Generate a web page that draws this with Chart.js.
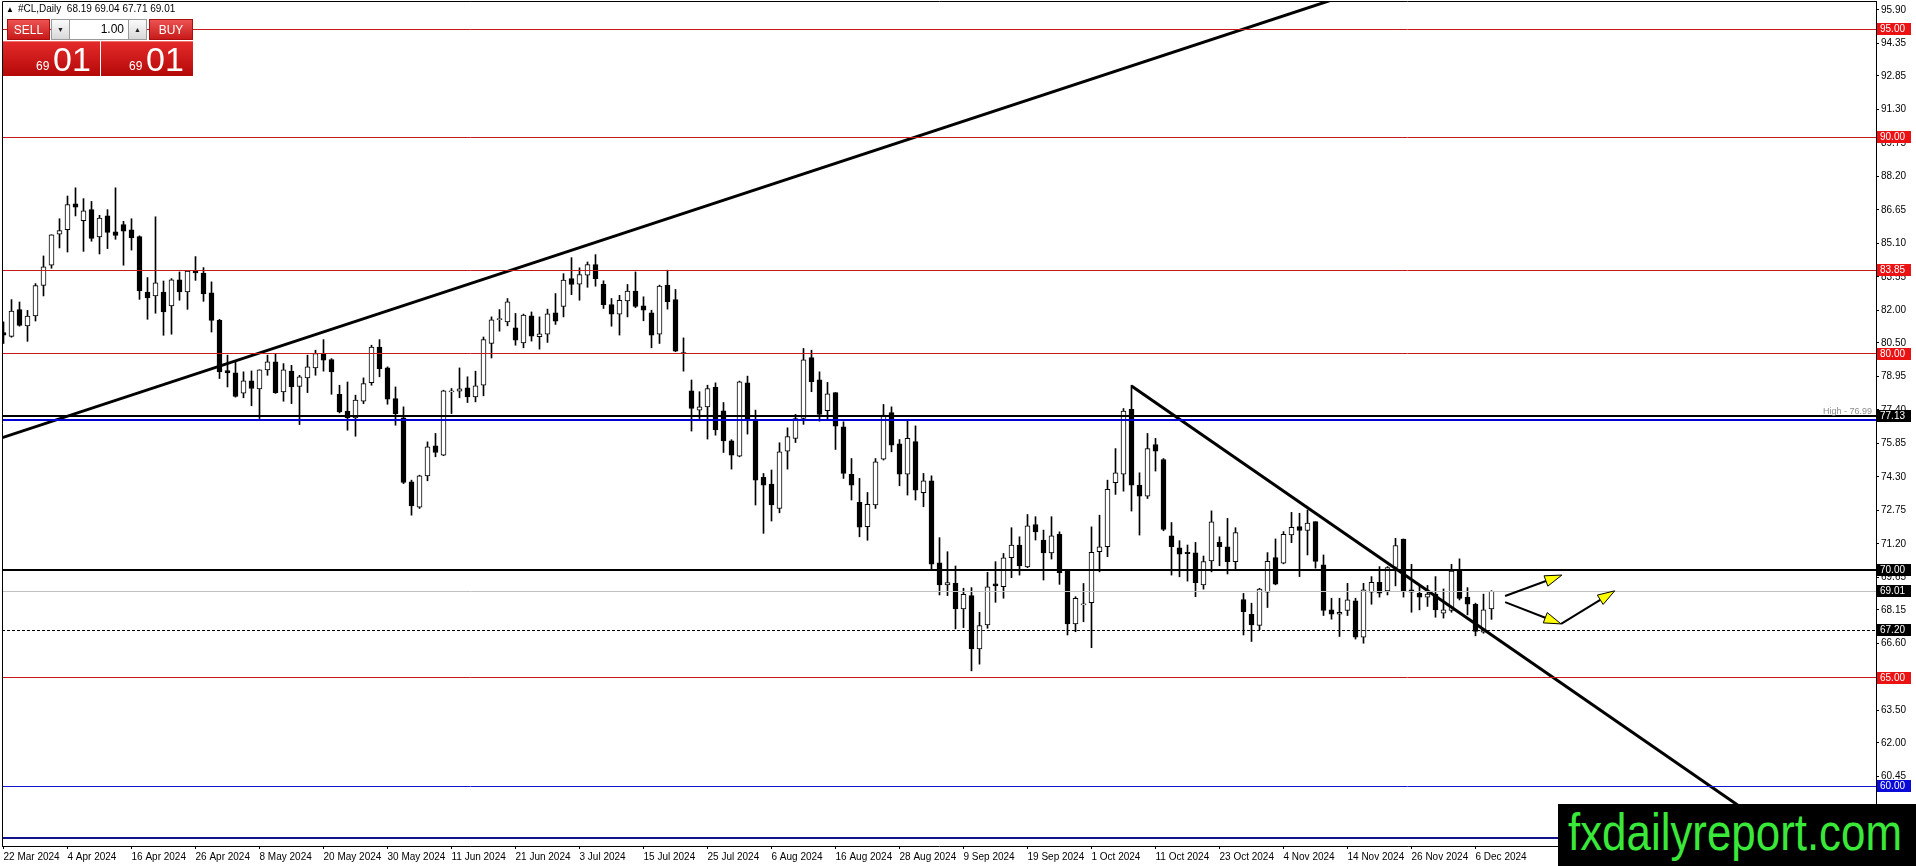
<!DOCTYPE html>
<html><head><meta charset="utf-8">
<script src="https://cdn.jsdelivr.net/npm/chart.js@4/dist/chart.umd.min.js"></script>
<style>
html,body{margin:0;padding:0;background:#fff;overflow:hidden}
#wrap{position:relative;width:1916px;height:866px;font-family:"Liberation Sans",Arial,sans-serif}
canvas{display:block;position:absolute;left:0;top:0}
.abs{position:absolute}
#hdr{left:6px;top:3px;font-size:10px;color:#000;white-space:nowrap;line-height:12px}
#hdr .tri{font-size:8px;margin-right:4px}
.btn{top:19px;height:21px;background:linear-gradient(#ec5252,#c81a1a);color:#fff;font-size:12px;display:flex;align-items:center;justify-content:center;box-sizing:border-box;border:1px solid #a80f0f}
#sell{left:7px;width:43px}
#buy{left:149px;width:44px}
.spin{top:19px;height:21px;width:19px;background:linear-gradient(#fbfbfb,#d8d8d8);border:1px solid #9a9a9a;box-sizing:border-box;font-size:7px;display:flex;align-items:center;justify-content:center;color:#222}
#dn{left:51px}#up{left:128px}
#lot{left:70px;top:19px;width:58px;height:21px;background:#fff;border-top:1px solid #9a9a9a;border-bottom:1px solid #9a9a9a;box-sizing:border-box;text-align:right;font-size:12px;line-height:19px;padding-right:4px;color:#000}
.pbox{top:41px;height:35px;background:linear-gradient(#e42a2a,#b40808);color:#fff;box-sizing:border-box;border-top:1px solid #f07070}
#pl{left:3px;width:97px}#pr{left:101px;width:92px}
.pbox .s{position:absolute;bottom:4px;font-size:12px;line-height:12px}
.pbox .b{position:absolute;bottom:1px;font-size:34px;line-height:32px}
#wm{left:1558px;top:804px;width:358px;height:62px;background:#000;overflow:hidden}
#wm span{position:absolute;left:10px;top:2px;font-size:52px;line-height:52px;color:#3ae83a;white-space:nowrap;transform-origin:0 0}
</style></head><body>
<div id="wrap">
<canvas id="c" width="1916" height="866"></canvas>
<div id="hdr" class="abs"><span class="tri">▲</span>#CL,Daily&nbsp; 68.19 69.04 67.71 69.01</div>
<div id="sell" class="abs btn">SELL</div>
<div id="dn" class="abs spin">▼</div>
<div id="lot" class="abs">1.00</div>
<div id="up" class="abs spin">▲</div>
<div id="buy" class="abs btn">BUY</div>
<div id="pl" class="abs pbox"><span class="s" style="left:33px">69</span><span class="b" style="left:50px">01</span></div>
<div id="pr" class="abs pbox"><span class="s" style="left:28px">69</span><span class="b" style="left:45px">01</span></div>
<div id="wm" class="abs"><span id="wmt">fxdailyreport.com</span></div>
</div>
<script>
// ---- data ----
const opens = [80.98,80.80,82.04,81.28,81.74,83.16,84.09,85.53,85.73,86.93,
86.15,86.66,85.40,86.37,85.64,85.97,85.73,85.41,82.85,82.67,
82.85,82.21,83.42,82.85,83.82,83.73,82.81,81.54,79.22,79.11,
78.17,78.74,78.37,79.25,79.62,78.23,79.20,78.49,78.88,79.34,
80.00,79.73,78.12,77.34,77.03,77.80,78.66,80.31,79.34,77.92,
77.03,74.07,72.90,74.34,75.74,75.31,78.23,78.26,78.42,78.00,
78.54,80.47,81.57,81.47,81.19,80.50,81.75,80.78,80.90,81.89,
82.19,83.47,83.21,83.63,84.12,83.21,82.27,81.83,82.44,82.89,
82.21,81.89,80.90,83.17,82.50,80.02,78.28,77.39,77.54,78.44,
77.36,75.97,75.26,78.65,76.96,74.28,73.97,72.84,75.49,76.08,
77.00,79.82,78.79,77.36,78.20,76.62,74.42,73.12,72.00,73.00,
75.12,77.28,75.83,74.43,75.93,73.57,74.12,70.33,69.30,69.38,
68.19,68.81,66.34,67.45,69.36,69.22,70.56,71.15,70.14,72.10,
71.38,70.79,71.65,69.96,67.50,68.38,68.48,70.84,71.07,74.03,
74.43,77.43,73.92,73.41,75.80,75.10,71.58,71.02,70.81,70.79,
69.30,70.41,71.27,71.07,70.38,68.63,67.95,67.43,68.97,70.57,
70.31,71.62,72.00,71.82,72.23,70.23,68.15,67.95,68.12,68.57,
66.89,68.97,69.43,69.03,70.11,71.42,69.08,68.92,68.74,68.88,
68.00,68.12,70.00,68.74,68.41,67.12,68.19];
const highs = [81.47,82.50,82.39,82.00,83.24,84.52,85.50,86.24,87.29,87.67,
87.17,87.04,86.40,86.66,87.67,86.12,86.24,85.45,83.52,86.33,
83.36,83.47,83.78,83.85,84.49,83.98,83.32,81.59,79.93,79.62,
79.16,79.20,79.25,79.93,80.00,79.54,79.46,79.00,79.93,80.16,
80.65,79.77,78.54,78.69,78.08,78.88,80.39,80.65,79.39,78.46,
77.54,74.15,74.38,75.92,76.31,78.31,78.39,79.34,78.93,79.19,
80.77,81.70,82.04,82.55,81.86,81.83,81.93,81.70,82.06,82.78,
83.70,84.44,83.97,84.24,84.58,83.37,82.55,82.70,83.20,83.78,
82.63,82.01,83.17,83.86,82.97,80.73,78.78,78.24,78.54,78.65,
77.74,76.02,78.73,78.96,77.39,74.46,74.62,75.88,76.57,77.19,
80.24,80.16,79.16,78.67,78.20,76.85,75.15,74.23,73.58,75.15,
77.65,77.54,76.03,76.96,76.66,74.46,74.35,71.49,70.84,70.18,
69.15,69.18,68.04,69.89,70.38,70.76,71.95,71.53,72.56,72.46,
71.84,72.46,71.76,69.99,68.76,69.37,71.99,72.53,74.15,75.61,
77.46,78.54,74.49,76.31,76.08,75.15,72.19,71.35,71.15,71.27,
70.64,72.73,71.53,72.38,71.95,68.91,68.46,69.15,70.80,71.43,
71.77,72.66,72.62,72.77,72.23,70.69,68.69,68.69,69.38,68.69,
69.38,69.69,70.15,70.15,71.46,71.43,70.26,69.26,69.28,69.69,
69.12,70.26,70.51,69.18,68.46,68.88,69.04];
const lows = [80.47,80.76,81.27,80.57,81.51,82.67,83.95,84.89,84.70,86.37,
84.73,85.20,84.61,84.86,85.29,84.09,84.79,82.51,81.59,81.87,
80.85,80.90,82.47,82.05,83.39,82.42,81.00,78.85,78.46,77.99,
77.96,77.59,77.00,79.00,78.16,77.80,77.69,76.72,78.20,79.00,
79.19,78.12,77.26,76.46,76.18,77.69,78.54,78.93,77.66,76.69,
73.99,72.53,72.84,74.12,75.23,75.28,77.23,77.96,77.74,77.77,
78.05,79.80,81.04,81.29,80.39,80.27,80.58,80.21,80.52,81.35,
81.70,82.73,82.47,83.07,83.12,82.09,81.27,80.86,81.70,82.13,
81.52,80.27,80.47,82.06,80.09,79.19,76.42,77.00,76.05,76.23,
75.43,74.66,75.23,76.28,73.00,71.69,72.26,72.64,74.66,75.89,
76.73,78.24,76.88,76.97,75.57,74.23,73.23,71.53,71.37,72.84,
75.08,75.46,73.89,73.46,73.23,72.92,70.04,68.84,68.81,67.27,
67.33,65.33,65.64,67.30,68.50,68.69,69.64,69.76,70.10,71.38,
69.53,70.50,69.33,66.99,67.14,67.60,66.40,69.91,70.61,73.49,
73.64,72.72,71.61,73.30,74.57,71.81,69.76,69.68,69.48,68.76,
69.11,69.91,70.19,69.81,69.99,66.99,66.69,67.23,68.26,69.31,
70.28,71.26,69.69,70.69,70.08,67.89,67.72,66.92,67.89,66.80,
66.61,68.41,68.74,68.84,69.26,68.74,68.04,68.15,68.31,67.81,
67.77,68.04,68.61,67.92,66.95,67.07,67.71];
const closes = [80.85,81.97,81.31,81.74,83.15,84.01,85.49,85.69,86.89,86.77,
86.60,85.33,86.27,85.61,85.47,85.66,85.35,82.90,82.58,83.27,
81.93,83.42,82.85,83.82,83.73,82.76,81.54,79.16,79.11,78.02,
78.74,78.39,79.25,79.62,78.20,79.25,78.46,78.93,79.39,80.00,
79.70,79.16,77.31,77.03,77.85,78.62,80.31,79.31,77.89,77.23,
74.04,72.96,74.35,75.69,75.43,78.28,78.25,78.37,78.00,78.51,
80.65,81.57,81.62,82.40,80.62,81.79,80.81,80.92,81.84,81.50,
83.40,83.20,83.66,84.12,83.47,82.27,81.83,82.47,82.89,82.19,
82.01,80.86,83.13,82.40,80.12,80.00,77.47,77.54,78.39,76.47,
75.96,75.31,78.70,76.96,74.15,73.92,73.00,75.46,76.16,77.00,
79.71,78.70,77.19,78.14,76.65,74.46,73.92,71.97,73.03,75.00,
77.16,75.77,74.43,76.08,73.69,74.12,70.26,69.30,69.41,68.19,
68.87,66.34,67.42,69.22,69.26,70.56,71.15,70.18,72.04,71.76,
70.79,71.58,69.87,67.50,68.68,68.40,70.81,71.07,73.73,74.49,
77.34,73.92,73.41,75.61,75.49,71.87,71.07,70.73,70.75,69.41,
70.38,72.22,71.07,70.38,71.72,68.07,67.46,69.11,70.39,69.34,
71.65,71.97,71.82,72.16,70.39,68.12,67.95,68.04,68.61,66.89,
69.08,69.43,68.92,70.11,71.12,69.04,68.97,68.74,68.88,68.15,
68.15,69.95,68.68,68.41,67.15,68.15,69.01];

const dateTickIndex = [0,8,16,24,32,40,48,56,64,72,80,88,96,104,112,120,128,136,144,152,160,168,176,184];
const dateTickLabels = ['22 Mar 2024','4 Apr 2024','16 Apr 2024','26 Apr 2024','8 May 2024','20 May 2024','30 May 2024','11 Jun 2024','21 Jun 2024','3 Jul 2024','15 Jul 2024','25 Jul 2024','6 Aug 2024','16 Aug 2024','28 Aug 2024','9 Sep 2024','19 Sep 2024','1 Oct 2024','11 Oct 2024','23 Oct 2024','4 Nov 2024','14 Nov 2024','26 Nov 2024','6 Dec 2024'];
const priceTicks = [95.90,94.35,92.85,91.30,89.75,88.20,86.65,85.10,83.55,82.00,80.50,78.95,77.40,75.85,74.30,72.75,71.20,69.65,68.15,66.60,65.05,63.50,62.00,60.45,58.90];

const redLevels = [95.00, 90.00, 83.85, 80.00, 65.00];
const blueLevels = [60.00];
const blackLevels = [77.13, 70.00];
const highLevel = 76.92;
const highLabel = 'High - 76.99';
const bidLevel = 69.01;
const stopLevel = 67.20;
const floorLevel = 57.60;

const trendUpX = [-1, 170];
const trendUpY = [76.01, 96.84];
const trendDownX = [141, 230];
const trendDownY = [78.50, 55.74];

const arrowFromX = [187.7, 187.7, 194.7];
const arrowFromY = [68.79, 68.51, 67.50];
const arrowToX = [194.8, 194.7, 201.4];
const arrowToY = [69.76, 67.50, 69.03];

// ---- build datasets ----
const idx = opens.map((_, i) => i);
const wickData = idx.map(i => ({x: i, y: [lows[i], highs[i]]}));
const bodyData = idx.map(i => ({x: i, y: [opens[i], closes[i]]}));
const upData = trendUpX.map((v, i) => ({x: v, y: trendUpY[i]}));
const downData = trendDownX.map((v, i) => ({x: v, y: trendDownY[i]}));
const FONT = '"Liberation Sans", Arial, sans-serif';

const overlay = {
  id: 'overlay',
  afterDatasetsDraw(chart) {
    const {ctx, chartArea: a, scales: {x, y}} = chart;
    ctx.save();
    ctx.beginPath(); ctx.rect(a.left, a.top, a.right - a.left, a.bottom - a.top); ctx.clip();
    const h = (v, color, w, dash) => {
      let py = y.getPixelForValue(v);
      py = (w % 2) ? Math.round(py - 0.5) + 0.5 : Math.round(py);
      ctx.setLineDash(dash || []); ctx.strokeStyle = color; ctx.lineWidth = w;
      ctx.beginPath(); ctx.moveTo(a.left, py); ctx.lineTo(a.right, py); ctx.stroke();
    };
    redLevels.forEach(v => h(v, '#c41a1a', 1));
    blueLevels.forEach(v => h(v, '#1414d0', 1));
    h(highLevel, '#0000d4', 2);
    blackLevels.forEach(v => h(v, '#000', 2));
    h(bidLevel, '#c0c0c0', 1);
    h(stopLevel, '#000', 1, [3, 2]);
    h(floorLevel, '#12128a', 2);
    ctx.setLineDash([]);
    for (let k = 0; k < arrowFromX.length; k++) {
      const x0 = x.getPixelForValue(arrowFromX[k]), y0 = y.getPixelForValue(arrowFromY[k]);
      const x1 = x.getPixelForValue(arrowToX[k]), y1 = y.getPixelForValue(arrowToY[k]);
      const ang = Math.atan2(y1 - y0, x1 - x0);
      const L = 17, W = 5.5;
      const bx = x1 - L * Math.cos(ang), by = y1 - L * Math.sin(ang);
      ctx.strokeStyle = '#000'; ctx.lineWidth = 2;
      ctx.beginPath(); ctx.moveTo(x0, y0); ctx.lineTo(bx, by); ctx.stroke();
      ctx.beginPath(); ctx.moveTo(x1, y1);
      ctx.lineTo(bx + W * Math.sin(ang), by - W * Math.cos(ang));
      ctx.lineTo(bx - W * Math.sin(ang), by + W * Math.cos(ang));
      ctx.closePath();
      ctx.fillStyle = '#ffff00'; ctx.fill(); ctx.lineWidth = 1; ctx.stroke();
    }
    ctx.fillStyle = '#8c8c8c'; ctx.font = '9px ' + FONT; ctx.textAlign = 'right'; ctx.textBaseline = 'alphabetic';
    ctx.fillText(highLabel, a.right - 4, y.getPixelForValue(blackLevels[0]) - 2);
    ctx.restore();
  },
  afterDraw(chart) {
    const {ctx, chartArea: a, scales: {y}} = chart;
    ctx.save();
    ctx.strokeStyle = '#000'; ctx.lineWidth = 1;
    ctx.beginPath(); ctx.moveTo(a.left + 0.5, a.bottom); ctx.lineTo(a.left + 0.5, a.top + 0.5); ctx.lineTo(a.right, a.top + 0.5); ctx.stroke();
    const box = (v, bg) => {
      const py = Math.round(y.getPixelForValue(v));
      ctx.fillStyle = bg; ctx.fillRect(y.left + 1, py - 6, 34, 12);
      ctx.fillStyle = '#fff'; ctx.font = '10px ' + FONT; ctx.textAlign = 'left'; ctx.textBaseline = 'middle';
      ctx.fillText(v.toFixed(2), y.left + 4, py + 0.5);
    };
    redLevels.forEach(v => box(v, '#ea1212'));
    blueLevels.forEach(v => box(v, '#0a0ad8'));
    blackLevels.forEach(v => box(v, '#000'));
    box(bidLevel, '#000');
    box(stopLevel, '#000');
    ctx.restore();
  }
};

new Chart(document.getElementById('c'), {
  type: 'bar',
  data: {
    datasets: [
      {type: 'line', data: upData, borderColor: '#000', borderWidth: 3, pointRadius: 0, tension: 0, clip: 0, order: 0},
      {type: 'line', data: downData, borderColor: '#000', borderWidth: 3, pointRadius: 0, tension: 0, clip: 0, order: 0},
      {type: 'bar', data: bodyData, barThickness: 5, grouped: false, order: 1,
        backgroundColor: c => (closes[c.dataIndex] >= opens[c.dataIndex] ? '#fff' : '#000'),
        borderColor: '#000', borderWidth: 1, borderSkipped: false, minBarLength: 1},
      {type: 'bar', data: wickData, barThickness: 1, grouped: false, order: 2, backgroundColor: '#000', borderWidth: 0}
    ]
  },
  options: {
    responsive: false, animation: false, devicePixelRatio: 1, events: [],
    layout: {padding: {left: 2, top: 1, right: 0, bottom: 0}},
    plugins: {legend: {display: false}, tooltip: {enabled: false}},
    scales: {
      x: {
        type: 'linear', min: -0.1875, max: 234.0625, offset: false, position: 'bottom',
        afterBuildTicks(s) { s.ticks = dateTickIndex.map(v => ({value: v})); },
        afterFit(s) { s.height = 20; s.paddingLeft = 0; s.paddingRight = 0; },
        ticks: {autoSkip: false, maxRotation: 0, minRotation: 0, align: 'start', padding: 2, color: '#000',
          font: {family: FONT, size: 10},
          callback: v => { const k = dateTickIndex.indexOf(v); return k >= 0 ? dateTickLabels[k] : ''; }},
        grid: {display: true, drawOnChartArea: false, drawTicks: true, tickLength: 3, color: '#000', offset: false},
        border: {display: true, color: '#000', width: 1}
      },
      y: {
        type: 'linear', position: 'right', min: 57.23, max: 96.31, beginAtZero: false,
        afterBuildTicks(s) { s.ticks = priceTicks.map(v => ({value: v})); },
        afterFit(s) { s.width = 40; s.paddingTop = 0; s.paddingBottom = 0; },
        ticks: {padding: 2, color: '#000', font: {family: FONT, size: 10}, callback: v => Number(v).toFixed(2)},
        grid: {display: true, drawOnChartArea: false, drawTicks: true, tickLength: 3, color: '#000'},
        border: {display: true, color: '#000', width: 1}
      }
    }
  },
  plugins: [overlay]
});

// fit watermark text to its measured width
const wm = document.getElementById('wmt');
const wmW = wm.getBoundingClientRect().width;
wm.style.transform = 'scaleX(' + (334 / wmW) + ')';
</script>
</body></html>
